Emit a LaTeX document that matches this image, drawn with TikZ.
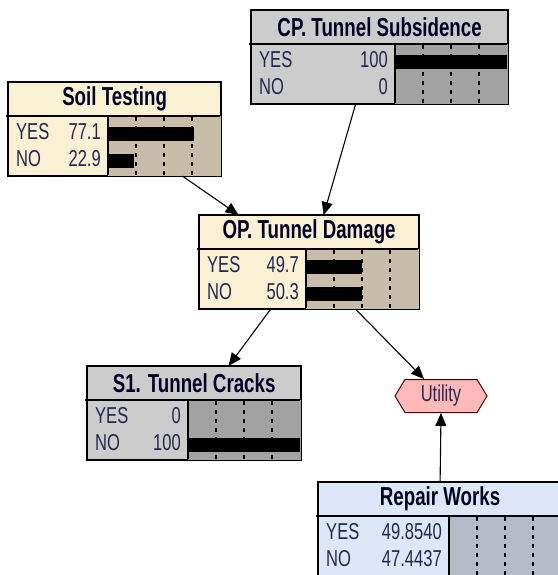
\documentclass[tikz,border=0pt]{standalone}
\usepackage{fontspec}
\setmainfont{Liberation Sans}[FakeStretch=0.72]
\usetikzlibrary{arrows.meta,shapes.symbols}

\definecolor{creamlab}{RGB}{250,240,212}
\definecolor{creambar}{RGB}{199,189,168}
\definecolor{graylab}{RGB}{204,204,204}
\definecolor{graybar}{RGB}{162,162,162}
\definecolor{bluelab}{RGB}{221,231,250}
\definecolor{bluebar}{RGB}{181,186,201}
\definecolor{utilfill}{RGB}{255,185,185}
\definecolor{txt}{RGB}{35,40,80}

\tikzset{
  box/.style={draw, line width=1.2pt, rectangle, inner sep=0pt, minimum height=93pt, anchor=north west},
  ttl/.style={font=\bfseries\fontsize{26}{28}\selectfont, text=black!85!blue, inner sep=0pt},
  row/.style={font=\fontsize{23}{26}\selectfont, text=txt, inner sep=0pt},
  tick/.style={line width=1.3pt, dash pattern=on 4pt off 5pt},
  arr/.style={line width=1.1pt, -{Triangle[length=13pt,width=11pt]}},
}

% name, position, colours, label width, title, yes, no, yes bar, no bar
\newcommand{\bnbox}[9]{%
  \node[box, fill=#3lab, minimum width={#4+112}] (#1) at #2 {};
  \fill[#3bar] (#1.north west) ++(#4,34) rectangle (#1.south east);
  \draw[line width=1.2pt] (#1.north west) ++(-2,34) -- ++({#4+114},0);
  \draw[line width=1.2pt] (#1.north west) ++(#4,34) -- ++(0,59);
  \foreach \q in {0.25,0.5,0.75}
    \draw[tick] (#1.north west) ++({#4+112*\q},35) -- ++(0,58);
  \fill (#1.north west) ++(#4,45) rectangle ++({112*#8},14);
  \fill (#1.north west) ++(#4,72) rectangle ++({112*#9},14);
  \draw[line width=1.2pt] (#1.north west) rectangle (#1.south east);
  \node[ttl] at ([yshift=-17pt]#1.north) {#5};
  \path (#1.north west) ++(8,50) node[row, right] {YES};
  \path (#1.north west) ++(8,77) node[row, right] {NO};
  \path (#1.north west) ++({#4-7},50) node[row, left] {#6};
  \path (#1.north west) ++({#4-7},77) node[row, left] {#7};
}

\begin{document}
\begin{tikzpicture}[x=1pt, y=-1pt]
  \useasboundingbox[fill=white] (0,0) rectangle (557,575);

  % chance nodes
  \bnbox{cp}{(251,10)}{gray}{144}{CP. Tunnel Subsidence}{100}{0}{1}{0}
  \bnbox{soil}{(8,82)}{cream}{100}{Soil Testing}{77.1}{22.9}{0.771}{0.229}
  \bnbox{op}{(199,215)}{cream}{107}{OP. Tunnel Damage}{49.7}{50.3}{0.497}{0.503}
  \bnbox{s1}{(87,366)}{gray}{101}{S1. Tunnel Cracks}{0}{100}{0}{1}
  \bnbox{rw}{(318,482)}{blue}{131}{Repair Works}{49.8540}{47.4437}{0}{0}

  % utility
  \node[signal, signal to=west and east, signal pointer angle=118, draw=black!70!red,
        line width=1pt, fill=utilfill, minimum width=92pt, minimum height=33pt,
        inner sep=0pt, font=\fontsize{23}{26}\selectfont, text=txt] (util) at (441,396) {Utility};

  % links
  \draw[arr] ([xshift=68pt]soil.south) -- ([xshift=-70.5pt]op.north);
  \draw[arr] ([xshift=-24pt]cp.south) -- ([xshift=14.5pt]op.north);
  \draw[arr] ([xshift=-38.5pt]op.south) -- ([xshift=34.5pt]s1.north);
  \draw[arr] ([xshift=46.5pt]op.south) -- ([xshift=-17pt]util.north);
  \draw[arr] (rw.north) -- (util.south);
\end{tikzpicture}
\end{document}
